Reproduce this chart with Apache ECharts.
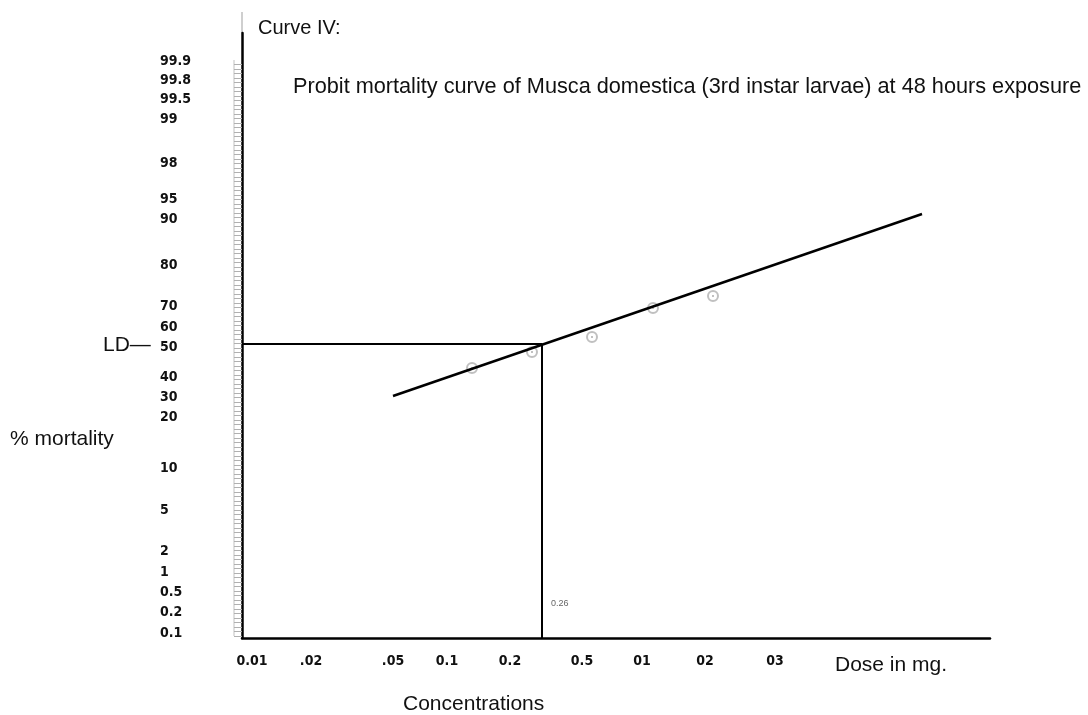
<!DOCTYPE html>
<html><head><meta charset="utf-8">
<script src="https://cdn.jsdelivr.net/npm/echarts@6/dist/echarts.min.js"></script>
<style>html,body{margin:0;padding:0;background:#fff}#c{width:1088px;height:715px}</style>
</head><body><div id="c"></div>
<script>
// Hand-drawn probit paper: every value below is read on the paper's own ruler scale
// (x ruler 0..748 along the dose axis, y ruler 0..605 along the mortality axis).
const yTickLabels = ['0.1','0.2','0.5','1','2','5','10','20','30','40','50','60','70','80','90','95','98','99','99.5','99.8','99.9'];
const yTickRuler  = [5,26,46,66,87,128,170,221,241,261,291,311,332,373,419,439,475,519,539,558,577];
const xTickLabels = ['0.01','.02','.05','0.1','0.2','0.5','01','02','03'];
const xTickRuler  = [10,69,151,205,268,340,400,463,533];

// fitted probit line (two ends)
const fitX = [151, 680];
const fitY = [242, 424];
// observed mortality points
const obsX = [230, 290, 350, 411, 471];
const obsY = [270, 286, 301, 330, 342];
// LD50 read-off
const ld50X = 300, ld50Y = 294, ld50Label = '0.26';

const X_MAX = 748, Y_MAX = 605;
const labelFont = '"Liberation Sans Narrow","DejaVu Sans Condensed",sans-serif';
const textFont = '"Liberation Sans",Arial,sans-serif';

// ruler strip ticks along the mortality axis (decoration)
const rulerTicks = [];
for (let v = 2; v <= 577; v += 4.5) rulerTicks.push(v);

const chart = echarts.init(document.getElementById('c'), null, {renderer: 'canvas'});
chart.setOption({
  backgroundColor: '#fff',
  animation: false,
  grid: {left: 242, right: 98, top: 33, bottom: 77, containLabel: false, outerBoundsMode: 'none'},
  xAxis: {
    type: 'value', min: 0, max: X_MAX,
    axisLine: {show: true, lineStyle: {color: '#000', width: 2.5}},
    axisTick: {show: false},
    splitLine: {show: false},
    axisLabel: {
      show: true, customValues: xTickRuler, margin: 16,
      formatter: v => xTickLabels[xTickRuler.indexOf(v)] || '',
      color: '#111', fontFamily: labelFont, fontWeight: 'bold', fontSize: 14
    }
  },
  yAxis: [{
    type: 'value', min: 0, max: Y_MAX,
    axisLine: {show: true, lineStyle: {color: '#000', width: 2.5}},
    axisTick: {show: false},
    splitLine: {show: false},
    axisLabel: {
      show: true, customValues: yTickRuler, margin: 82, align: 'left',
      formatter: v => yTickLabels[yTickRuler.indexOf(v)] || '',
      color: '#111', fontFamily: labelFont, fontWeight: 'bold', fontSize: 14
    }
  }, {
    type: 'value', min: 0, max: Y_MAX, position: 'left',
    axisLine: {show: false},
    axisLabel: {show: false},
    splitLine: {show: false},
    axisTick: {show: true, customValues: rulerTicks, length: 8, lineStyle: {color: '#b0b0b0', width: 1}}
  }],
  graphic: [
    {type: 'line', silent: true, shape: {x1: 234, y1: 60, x2: 234, y2: 636}, style: {stroke: '#c0c0c0', lineWidth: 1}},
    {type: 'line', silent: true, shape: {x1: 242, y1: 12, x2: 242, y2: 33}, style: {stroke: '#cfcfcf', lineWidth: 2}},
    {type: 'text', left: 258, top: 18, style: {text: 'Curve IV:', font: '20px ' + textFont, fill: '#111'}},
    {type: 'text', left: 293, top: 76, style: {text: 'Probit mortality curve of Musca domestica (3rd instar larvae) at 48 hours exposure', font: '21.7px ' + textFont, fill: '#111'}},
    {type: 'text', left: 103, top: 335, style: {text: 'LD\u2014', font: '21px ' + textFont, fill: '#111'}},
    {type: 'text', left: 10, top: 429, style: {text: '% mortality', font: '21px ' + textFont, fill: '#111'}},
    {type: 'text', left: 835, top: 655, style: {text: 'Dose in mg.', font: '21px ' + textFont, fill: '#111'}},
    {type: 'text', left: 403, top: 694, style: {text: 'Concentrations', font: '21px ' + textFont, fill: '#111'}},
    {type: 'text', left: 551, top: 599, style: {text: ld50Label, font: '9px ' + textFont, fill: '#666'}}
  ],
  series: [{
    name: 'observed', type: 'scatter', z: 1,
    data: obsX.map((x, i) => [x, obsY[i]]),
    symbol: 'emptyCircle', symbolSize: 10,
    itemStyle: {color: '#b0b0b0', borderColor: '#b0b0b0', borderWidth: 1.3}
  }, {
    name: 'observed-dot', type: 'scatter', z: 1,
    data: obsX.map((x, i) => [x, obsY[i]]),
    symbol: 'circle', symbolSize: 2,
    itemStyle: {color: '#999'}
  }, {
    name: 'probit line', type: 'line', z: 3,
    data: fitX.map((x, i) => [x, fitY[i]]),
    symbol: 'none', lineStyle: {color: '#000', width: 2.5}
  }, {
    name: 'LD50', type: 'line', z: 3,
    data: [[0, ld50Y], [ld50X, ld50Y], [ld50X, 0]],
    symbol: 'none', lineStyle: {color: '#000', width: 2}
  }]
});
</script>
</body></html>
